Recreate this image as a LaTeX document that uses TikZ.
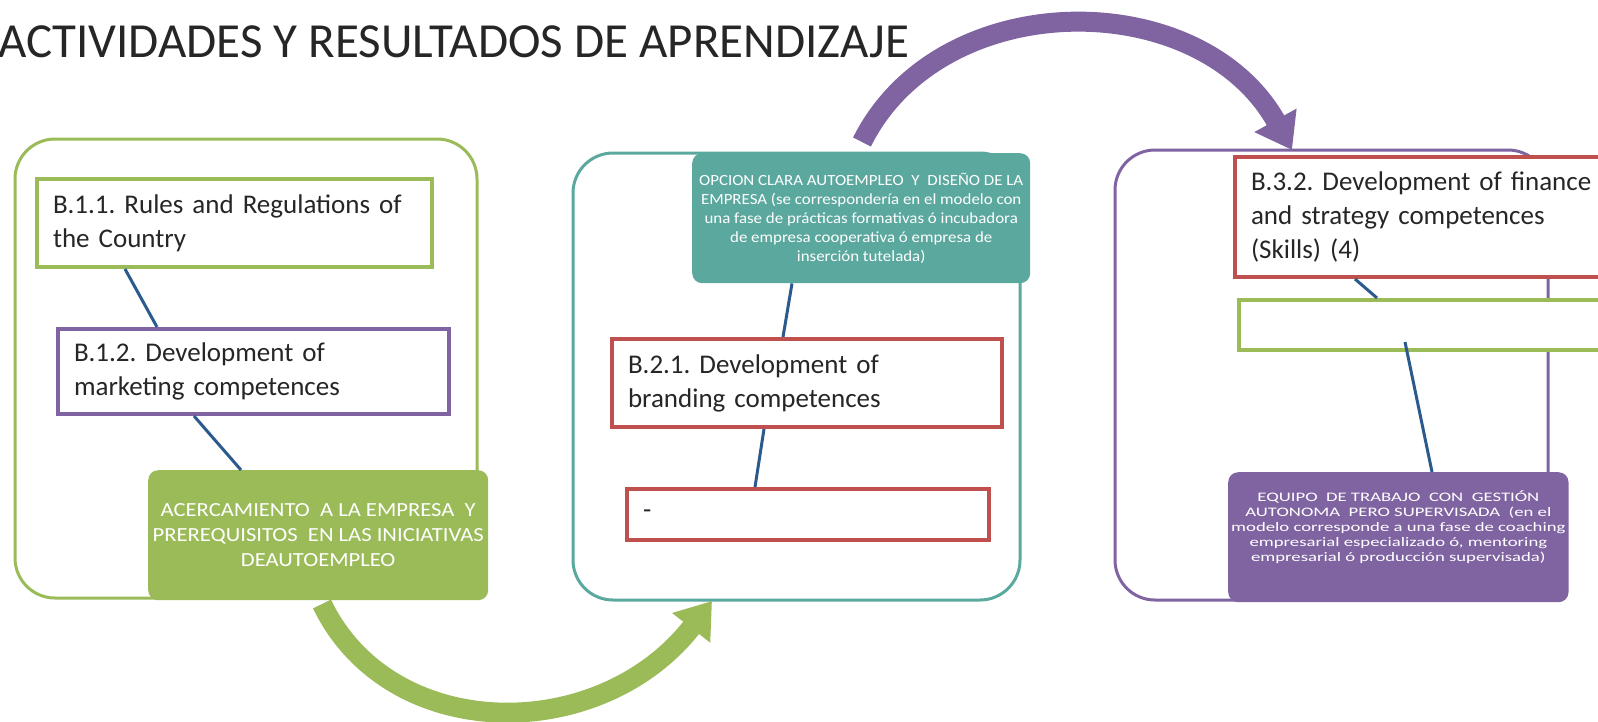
\documentclass[tikz,border=0pt]{standalone}
\usepackage{fontspec}
\setmainfont{Carlito}
\newfontfamily\greenfont[FakeStretch=1.13]{Carlito}
\newfontfamily\tealfont[FakeStretch=1.09]{Carlito}
\newfontfamily\purplefont[FakeStretch=1.44]{Carlito}
\usepackage{xcolor}
\usetikzlibrary{arrows.meta, positioning}
\definecolor{olgreen}{HTML}{9BBB59}
\definecolor{olpurple}{HTML}{8064A2}
\definecolor{olteal}{HTML}{5BA89E}
\definecolor{olred}{HTML}{C0504D}
\definecolor{olblue}{HTML}{2A5B8C}
\definecolor{txtgray}{HTML}{262626}
\frenchspacing

\begin{document}
\begin{tikzpicture}[x=1pt,y=-1pt,
    frame/.style={rounded corners=40pt, line width=3pt},
    tbox/.style={draw, line width=4pt, fill=white, text=txtgray, align=left,
      anchor=north west, inner xsep=16pt, font=\fontsize{27}{34}\selectfont},
    fbox/.style={rounded corners=10pt, text=white, align=center, anchor=north west,
      inner sep=3pt},
    link/.style={olblue, line width=3pt},
    bigarrow/.style={line width=20pt, -{Triangle[width=46pt,length=34pt]}}]
  \useasboundingbox (0,0) rectangle (1598,721);
  \clip (0,0) rectangle (1598,721);

  \node[anchor=west, text=txtgray, inner sep=0pt, font=\fontsize{49}{52}\selectfont] (title) at (-2,42)
    {ACTIVIDADES Y RESULTADOS DE APRENDIZAJE};

  % frames
  \draw[frame, olgreen] (15,139) rectangle (477,598);
  \draw[frame, olteal] (573,153) rectangle (1020,600);
  \draw[frame, olpurple] (1115,150) rectangle (1548,600);

  % column 1
  \node[tbox, draw=olgreen, text width=363pt, minimum height=88pt] (rules) at (35,177)
    {B.1.1. Rules and Regulations of\\the Country};
  \node[tbox, draw=olpurple, text width=359pt, minimum height=85pt] (mkt) at (56,327)
    {B.1.2. Development of\\marketing competences};
  \node[fbox, fill=olgreen, minimum width=340pt, minimum height=130pt,
    font=\greenfont\fontsize{20}{25}\selectfont] (acerca) at (148,470)
    {ACERCAMIENTO\ \ A LA EMPRESA\ \ Y\\PREREQUISITOS\ \ EN LAS INICIATIVAS\\DEAUTOEMPLEO};

  % column 2
  \node[fbox, fill=olteal, minimum width=338pt, minimum height=130pt,
    font=\tealfont\fontsize{15.5}{19}\selectfont] (opcion) at (692,153)
    {OPCION CLARA AUTOEMPLEO\ \ Y\ \ DISEÑO DE LA\\
     EMPRESA (se correspondería en el modelo con\\
     una fase de prácticas formativas ó incubadora\\
     de empresa cooperativa ó empresa de\\
     inserción tutelada)};
  \node[tbox, draw=olred, text width=358pt, minimum height=88pt] (brand) at (610,337)
    {B.2.1. Development of\\branding competences};
  \node[tbox, draw=olred, text width=330pt, minimum height=51pt] (dash) at (625,487) {-};

  % column 3
  \node[tbox, draw=olred, text width=468pt, minimum height=120pt] (finance) at (1233,155)
    {B.3.2. Development of finance\\and strategy competences\\(Skills)\ (4)};
  \node[tbox, draw=olgreen, text width=468pt, minimum height=50pt] (empty) at (1237,298) {};
  \node[fbox, fill=olpurple, minimum width=337pt, minimum height=130pt,
    font=\purplefont\fontsize{13}{15}\selectfont] (equipo) at (1228,472)
    {EQUIPO\ \ DE TRABAJO\ \ CON\ \ GESTIÓN\\
     AUTONOMA\ \ PERO SUPERVISADA\ \ (en el\\
     modelo corresponde a una fase de coaching\\
     empresarial especializado ó, mentoring\\
     empresarial ó producción supervisada)\\[8pt]};

  % links
  \draw[link] ([xshift=90pt]rules.south west) -- ([xshift=101pt]mkt.north west);
  \draw[link] ([xshift=138pt]mkt.south west) -- ([xshift=93pt]acerca.north west);
  \draw[link] ([xshift=100pt]opcion.south west) -- ([xshift=173pt]brand.north west);
  \draw[link] ([xshift=154pt]brand.south west) -- ([xshift=130pt]dash.north west);
  \draw[link] ([xshift=122pt]finance.south west) -- ([xshift=140pt]empty.north west);
  \draw[link] ([xshift=168pt,yshift=10pt]empty.south west) -- ([xshift=204pt]equipo.north west);

  % big arrows
  \coordinate (gstart) at (322,604);
  \coordinate (gend) at (712,601);
  \coordinate (pstart) at (862,142);
  \coordinate (pend) at (1292,150);
  \draw[bigarrow, olgreen] (gstart) .. controls (390,745) and (600,745) .. (gend);
  \draw[bigarrow, olpurple] (pstart) .. controls (940,-15) and (1200,-15) .. (pend);
\end{tikzpicture}
\end{document}
